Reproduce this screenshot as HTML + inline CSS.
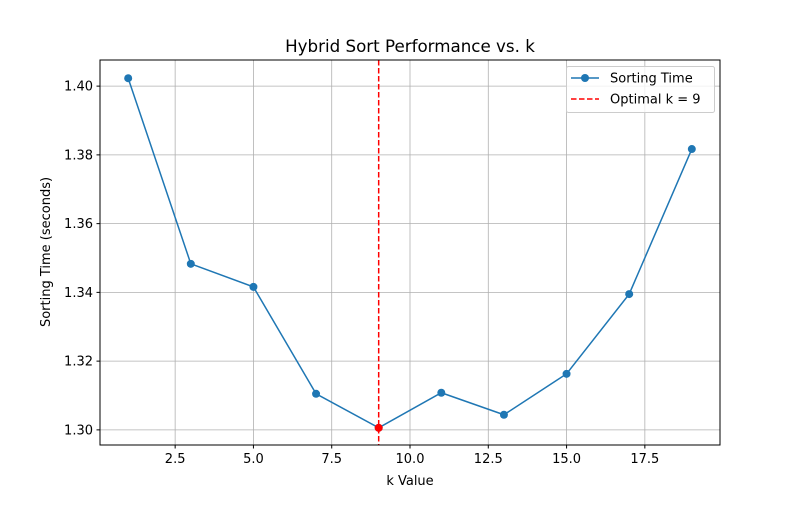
<!DOCTYPE html>
<html><head><meta charset="utf-8"><style>
body{margin:0;background:#fff;}
svg text{font-family:"DejaVu Sans","Liberation Sans",sans-serif;fill:#000;}
</style></head><body>
<svg id="chart" width="800" height="500" xmlns="http://www.w3.org/2000/svg">
<rect width="800" height="500" fill="#fff"/>
<g id="grid"></g>
<g id="ticks"></g>
<g id="series"></g>
<rect x="100" y="60" width="620" height="385" fill="none" stroke="#000" stroke-width="1"/>
<text x="410" y="52" font-size="16.7" text-anchor="middle">Hybrid Sort Performance vs. k</text>
<text x="410" y="485" font-size="13" text-anchor="middle">k Value</text>
<text x="50" y="252" font-size="13" text-anchor="middle" transform="rotate(-90 50 252)">Sorting Time (seconds)</text>
<g>
<rect x="566.5" y="66.5" width="148" height="46" rx="2" fill="#fff" fill-opacity="0.8" stroke="#ccc"/>
<g>
<line x1="571" y1="78" x2="599" y2="78" stroke="#1f77b4" stroke-width="1.5"/>
<circle cx="585" cy="78" r="4" fill="#1f77b4"/>
<text x="610" y="82.5" font-size="13">Sorting Time</text></g>
<g>
<line x1="571" y1="99" x2="599" y2="99" stroke="red" stroke-width="1.5" stroke-dasharray="5.5,2.5"/>
<text x="610" y="103.5" font-size="13">Optimal k = 9</text></g>
</g>
</svg>
<script>
const kValues=[1,3,5,7,9,11,13,15,17,19];
const sortTimes=[1.4023,1.3483,1.3416,1.3105,1.3006,1.3108,1.3044,1.3163,1.3395,1.3817];
const optimalK=9;
const xTicks=[2.5,5.0,7.5,10.0,12.5,15.0,17.5];
const yTicks=[1.30,1.32,1.34,1.36,1.38,1.40];
const NS="http://www.w3.org/2000/svg";
const X0=100,X1=720,Y0=445,Y1=60;
const xmin=0.1,xmax=19.9,ymin=1.2956,ymax=1.4076;
const sx=v=>X0+(v-xmin)/(xmax-xmin)*(X1-X0);
const sy=v=>Y0-(v-ymin)/(ymax-ymin)*(Y0-Y1);
function mk(t,a,p){const e=document.createElementNS(NS,t);for(const k in a)e.setAttribute(k,a[k]);p.appendChild(e);return e;}
const grid=document.getElementById('grid'),ticks=document.getElementById('ticks'),ser=document.getElementById('series');
xTicks.forEach(v=>{const x=sx(v);
const g=mk('line',{x1:x,x2:x,y1:Y1,y2:Y0,stroke:'#b0b0b0','stroke-width':0.8},grid);


mk('line',{x1:x,x2:x,y1:Y0,y2:Y0+3.5,stroke:'#000'},ticks);
const t=mk('text',{x:x,y:Y0+18,'font-size':13,'text-anchor':'middle'},ticks);t.textContent=v.toFixed(1);

});
yTicks.forEach(v=>{const y=sy(v);
const g=mk('line',{x1:X0,x2:X1,y1:y,y2:y,stroke:'#b0b0b0','stroke-width':0.8},grid);


mk('line',{x1:X0-3.5,x2:X0,y1:y,y2:y,stroke:'#000'},ticks);
const t=mk('text',{x:X0-7,y:y+4.5,'font-size':13,'text-anchor':'end'},ticks);t.textContent=v.toFixed(2);

});
const pl=mk('polyline',{points:kValues.map((k,i)=>sx(k)+','+sy(sortTimes[i])).join(' '),fill:'none',stroke:'#1f77b4','stroke-width':1.5},ser);


kValues.forEach((k,i)=>{const c=mk('circle',{cx:sx(k),cy:sy(sortTimes[i]),r:4,fill:'#1f77b4'},ser);

});
const ox=sx(optimalK);
const vl=mk('line',{x1:ox,x2:ox,y1:Y1,y2:Y0,stroke:'red','stroke-width':1.5,'stroke-dasharray':'5.5,2.5'},ser);


const oi=kValues.indexOf(optimalK);
const oc=mk('circle',{cx:ox,cy:sy(sortTimes[oi]),r:4,fill:'red'},ser);


</script>
</body></html>
